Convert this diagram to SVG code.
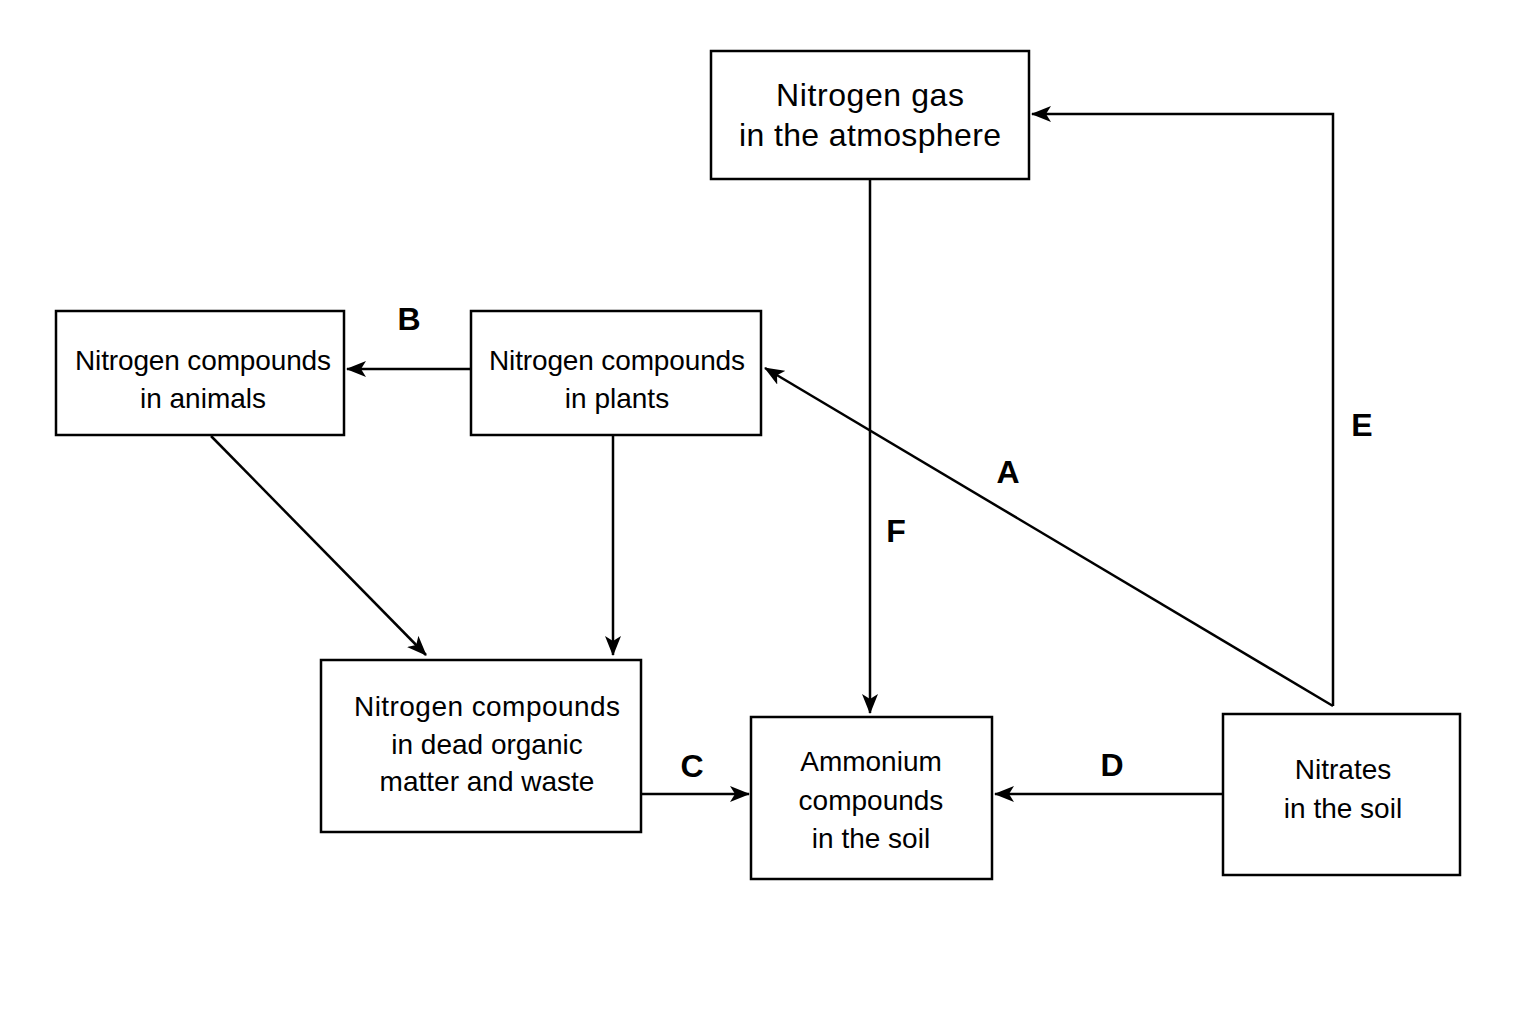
<svg xmlns="http://www.w3.org/2000/svg" width="1536" height="1024" viewBox="0 0 1536 1024">
<style>
.box{fill:#fff;stroke:#000;stroke-width:2.5}
.t{font-family:"Liberation Sans",Arial,sans-serif;font-size:28px;text-anchor:middle;fill:#000}
.tl{font-family:"Liberation Sans",Arial,sans-serif;font-size:32px;text-anchor:middle;fill:#000}
.lab{font-family:"Liberation Sans",Arial,sans-serif;font-size:32px;font-weight:bold;text-anchor:middle;fill:#000}
.c{fill:none;stroke:#000;stroke-width:2.5;marker-end:url(#ah)}
</style>
<defs>
<marker id="ah" viewBox="0 0 20 16" refX="19" refY="8" markerWidth="20" markerHeight="16" markerUnits="userSpaceOnUse" orient="auto">
<path d="M0,0 L20,8 L0,16 L5,8 Z" fill="#000"/>
</marker>
</defs>
<rect width="1536" height="1024" fill="#fff"/>
<g id="connectors">
<line class="c" x1="471" y1="369" x2="347" y2="369"/>
<line class="c" x1="211" y1="436" x2="426" y2="655"/>
<line class="c" x1="613" y1="436" x2="613" y2="655"/>
<line class="c" x1="642" y1="794" x2="749" y2="794"/>
<line class="c" x1="1223" y1="794" x2="995" y2="794"/>
<line class="c" x1="870" y1="179" x2="870" y2="713"/>
<line class="c" x1="1333" y1="706" x2="765" y2="368"/>
<polyline class="c" points="1333,706 1333,114 1032,114"/>
<text class="lab" x="409" y="330">B</text>
<text class="lab" x="692" y="777">C</text>
<text class="lab" x="1112" y="776">D</text>
<text class="lab" x="896" y="542">F</text>
<text class="lab" x="1008" y="483">A</text>
<text class="lab" x="1362" y="436">E</text>
</g>
<g id="gas"><rect class="box" x="711" y="51" width="318" height="128"/>
<text class="tl" x="870" y="106" textLength="188">Nitrogen gas</text><text class="tl" x="870" y="146" textLength="262">in the atmosphere</text></g>
<g id="animals"><rect class="box" x="56" y="311" width="288" height="124"/>
<text class="t" x="203" y="370" textLength="256">Nitrogen compounds</text><text class="t" x="203" y="408">in animals</text></g>
<g id="plants"><rect class="box" x="471" y="311" width="290" height="124"/>
<text class="t" x="617" y="370" textLength="256">Nitrogen compounds</text><text class="t" x="617" y="408">in plants</text></g>
<g id="dead"><rect class="box" x="321" y="660" width="320" height="172"/>
<text class="t" x="487" y="716" textLength="266">Nitrogen compounds</text><text class="t" x="487" y="754">in dead organic</text><text class="t" x="487" y="791">matter and waste</text></g>
<g id="ammonium"><rect class="box" x="751" y="717" width="241" height="162"/>
<text class="t" x="871" y="771">Ammonium</text><text class="t" x="871" y="810">compounds</text><text class="t" x="871" y="848">in the soil</text></g>
<g id="nitrates"><rect class="box" x="1223" y="714" width="237" height="161"/>
<text class="t" x="1343" y="779">Nitrates</text><text class="t" x="1343" y="818">in the soil</text></g>
</svg>
